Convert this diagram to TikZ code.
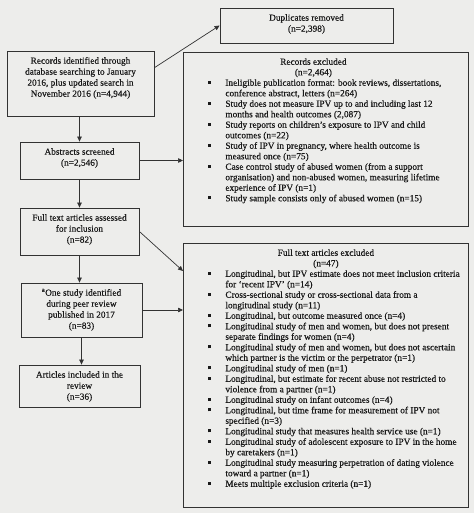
\documentclass[tikz,border=0pt]{standalone}
\usepackage{fontspec}
\setmainfont{Liberation Serif}[FakeBold=0.35]
\usetikzlibrary{arrows.meta,calc}
\definecolor{paper}{RGB}{237,237,235}
\definecolor{ink}{RGB}{25,25,25}
\definecolor{edge}{RGB}{50,50,50}
\newcommand{\bxt}[3]{\begin{minipage}[t][#2][t]{#1}\vspace*{5pt}#3\end{minipage}}
\newcommand{\blt}{\raisebox{2pt}{\rule{3pt}{3pt}}}
\newcommand{\lst}[1]{\noindent\begin{tabular}[t]{@{\hspace{24.5pt}}p{17.5pt}@{}l@{}}#1\end{tabular}}
\tikzset{
  box/.style={draw=edge, line width=0.8pt, inner sep=0pt, text=ink,
    font=\fontsize{9.3}{11}\selectfont},
  listbox/.style={box, anchor=north west, font=\fontsize{9.3}{10.5}\selectfont},
  arr/.style={draw=edge, line width=0.7pt, -{Triangle[length=5pt,width=4.5pt]}}
}
\begin{document}
\begin{tikzpicture}[x=1pt,y=-1pt]
\path[fill=paper] (0,0) rectangle (474,513);
\useasboundingbox (0,0) rectangle (474,513);

\node[box] (dup) at (306.5,25.5) {\bxt{173pt}{35pt}{\centering\strut Duplicates removed\\(n=2,398)}};
\node[box] (rec) at (80.5,83.5) {\bxt{147pt}{65pt}{\centering\strut Records identified through\\database searching to January\\2016, plus updated search in\\November 2016 (n=4,944)}};
\node[box] (abs) at (79.5,160.5) {\bxt{119pt}{37pt}{\centering\strut Abstracts screened\\(n=2,546)}};
\node[box] (ft) at (79.5,231.5) {\bxt{119pt}{47pt}{\centering\strut Full text articles assessed\\for inclusion\\(n=82)}};
\node[box] (one) at (81.5,310) {\bxt{121pt}{54pt}{\centering\strut \textsuperscript{a}One study identified\\during peer review\\published in 2017\\(n=83)}};
\node[box] (inc) at (79.5,386) {\bxt{121pt}{42pt}{\centering\strut Articles included in the\\review\\(n=36)}};

\node[listbox] (recex) at (183,52) {\bxt{285pt}{174pt}{%
{\centering\strut\hspace*{-25pt}Records excluded\\\hspace*{-25pt}(n=2,464)\par}
\lst{%
\blt & Ineligible publication format: book reviews, dissertations,\\
 & conference abstract, letters (n=264)\\
\blt & Study does not measure IPV up to and including last 12\\
 & months and health outcomes (2,087)\\
\blt & Study reports on children’s exposure to IPV and child\\
 & outcomes (n=22)\\
\blt & Study of IPV in pregnancy, where health outcome is\\
 & measured once (n=75)\\
\blt & Case control study of abused women (from a support\\
 & organisation) and non-abused women, measuring lifetime\\
 & experience of IPV (n=1)\\
\blt & Study sample consists only of abused women (n=15)}}};

\node[listbox] (ftex) at (183,243) {\bxt{285pt}{264pt}{%
{\centering\strut Full text articles excluded\\(n=47)\par}
\lst{%
\blt & Longitudinal, but IPV estimate does not meet inclusion criteria\\
 & for ‘recent IPV’ (n=14)\\
\blt & Cross-sectional study or cross-sectional data from a\\
 & longitudinal study (n=11)\\
\blt & Longitudinal, but outcome measured once (n=4)\\
\blt & Longitudinal study of men and women, but does not present\\
 & separate findings for women (n=4)\\
\blt & Longitudinal study of men and women, but does not ascertain\\
 & which partner is the victim or the perpetrator (n=1)\\
\blt & Longitudinal study of men (n=1)\\
\blt & Longitudinal, but estimate for recent abuse not restricted to\\
 & violence from a partner (n=1)\\
\blt & Longitudinal study on infant outcomes (n=4)\\
\blt & Longitudinal, but time frame for measurement of IPV not\\
 & specified (n=3)\\
\blt & Longitudinal study that measures health service use (n=1)\\
\blt & Longitudinal study of adolescent exposure to IPV in the home\\
 & by caretakers (n=1)\\
\blt & Longitudinal study measuring perpetration of dating violence\\
 & toward a partner (n=1)\\
\blt & Meets multiple exclusion criteria (n=1)}}};

\draw[arr] ($(rec.north east)!0.26!(rec.south east)$) -- (dup.west);
\draw[arr] (rec.south -| abs.north) -- (abs.north);
\draw[arr] (abs.south) -- (ft.north);
\draw[arr] (ft.south) -- (ft.south |- one.north);
\draw[arr] (one.south) -- (one.south |- inc.north);
\draw[arr] (abs.east) -- (abs.east -| recex.west);
\draw[arr] (ft.east) -- ($(ftex.north west)+(0,28)$);
\draw[arr] (one.east) -- (one.east -| ftex.west);
\end{tikzpicture}
\end{document}
